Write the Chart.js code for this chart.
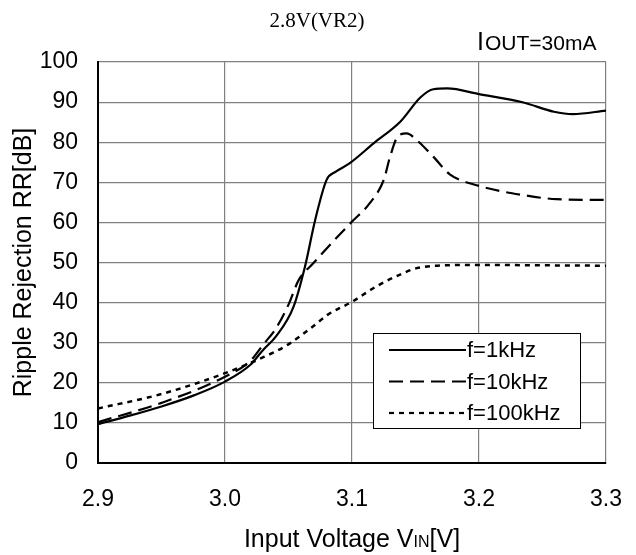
<!DOCTYPE html>
<html>
<head>
<meta charset="utf-8">
<script src="https://cdn.jsdelivr.net/npm/chart.js@4/dist/chart.umd.min.js"></script>
<style>
    html, body { margin: 0; padding: 0; background: #ffffff; }
    #wrap { width: 636px; height: 555px; }
</style>
</head>
<body>
<div id="wrap"><canvas id="rr_chart" width="636" height="555"></canvas></div>
<script>
// values (VIN in V, RR in dB)
var vin_1k = [2.90, 2.925, 2.95, 2.975, 3.00, 3.02, 3.03, 3.04, 3.054, 3.063, 3.071, 3.080, 3.087, 3.098, 3.117, 3.138, 3.154, 3.164, 3.175, 3.20, 3.235, 3.259, 3.274, 3.30];
var rr_1k = [9.7, 11.8, 14.1, 16.8, 20.3, 24.5, 28.2, 31.5, 39.0, 49.0, 60.6, 70.6, 72.6, 74.7, 79.7, 85.1, 91.2, 93.2, 93.4, 92.0, 89.9, 87.6, 87.0, 87.9];

var vin_10k = [2.90, 2.95, 3.00, 3.02, 3.03, 3.04, 3.05, 3.058, 3.0695, 3.085, 3.10, 3.114, 3.125, 3.130, 3.136, 3.143, 3.151, 3.164, 3.177, 3.20, 3.235, 3.261, 3.30];
var rr_10k = [10.2, 15.0, 21.5, 25.5, 29.5, 33.5, 39.5, 45.6, 49.8, 55.2, 60.2, 64.8, 70.6, 76.4, 81.4, 82.2, 80.5, 76.4, 72.0, 69.1, 66.8, 65.8, 65.6];

var vin_100k = [2.90, 2.95, 3.00, 3.031, 3.049, 3.069, 3.081, 3.10, 3.119, 3.14, 3.151, 3.167, 3.20, 3.25, 3.30];
var rr_100k = [13.6, 17.2, 22.4, 26.5, 29.4, 34.0, 37.0, 40.2, 44.0, 47.3, 48.6, 49.2, 49.4, 49.3, 49.2];

var series_names = ['f=1kHz', 'f=10kHz', 'f=100kHz'];
var x_ticks = [2.9, 3.0, 3.1, 3.2, 3.3];
var y_ticks = [0, 10, 20, 30, 40, 50, 60, 70, 80, 90, 100];

function toPoints(xs, ys) {
    return xs.map((x, i) => ({ x: x, y: ys[i] }));
}

var dashes = [[], [14, 7], [5, 5]];

// titles, axis names and the boxed legend inside the plot
var textPlugin = {
    id: 'texts',
    afterDraw(chart) {
        var ctx = chart.ctx;
        var area = chart.chartArea;
        ctx.save();
        ctx.fillStyle = '#000';

        ctx.font = '21px "Liberation Serif"';
        ctx.textAlign = 'center';
        ctx.textBaseline = 'alphabetic';
        ctx.fillText('2.8V(VR2)', 317, 27);

        ctx.textAlign = 'left';
        ctx.font = '25px "Liberation Sans"';
        ctx.fillText('I', 477, 50);
        var w = ctx.measureText('I').width;
        ctx.font = '21px "Liberation Sans"';
        ctx.fillText('OUT=30mA', 477 + w + 1, 50);

        // x axis name with subscript
        var big = '25px "Liberation Sans"', small = '16px "Liberation Sans"';
        ctx.font = big;
        var w1 = ctx.measureText('Input Voltage V').width;
        var w3 = ctx.measureText('[V]').width;
        ctx.font = small;
        var w2 = ctx.measureText('IN').width;
        var x0 = 352 - (w1 + w2 + w3) / 2;
        ctx.font = big;
        ctx.fillText('Input Voltage V', x0, 547);
        ctx.font = small;
        ctx.fillText('IN', x0 + w1, 547);
        ctx.font = big;
        ctx.fillText('[V]', x0 + w1 + w2, 547);

        // y axis name
        ctx.save();
        ctx.translate(31, (area.top + area.bottom) / 2);
        ctx.rotate(-Math.PI / 2);
        ctx.textAlign = 'center';
        ctx.font = '25px "Liberation Sans"';
        ctx.fillText('Ripple Rejection RR[dB]', 0, 0);
        ctx.restore();

        // legend box
        ctx.fillStyle = '#fff';
        ctx.fillRect(373, 333, 208, 96);
        ctx.strokeStyle = '#000';
        ctx.lineWidth = 1;
        ctx.strokeRect(373.5, 333.5, 207, 95);
        var rows = [350, 381.5, 413];
        ctx.font = '22px "Liberation Sans"';
        ctx.textBaseline = 'middle';
        ctx.textAlign = 'left';
        for (var i = 0; i < 3; i++) {
            ctx.beginPath();
            ctx.setLineDash(dashes[i]);
            ctx.lineWidth = 2.2;
            ctx.moveTo(389, rows[i]);
            ctx.lineTo(466, rows[i]);
            ctx.stroke();
            ctx.setLineDash([]);
            ctx.fillStyle = '#000';
            ctx.fillText(series_names[i], 467, rows[i] + 1);
        }
        ctx.restore();
    }
};

var rr = {
    type: 'line',
    data: {
        datasets: [
            { label: series_names[0], data: toPoints(vin_1k, rr_1k), borderDash: dashes[0] },
            { label: series_names[1], data: toPoints(vin_10k, rr_10k), borderDash: dashes[1] },
            { label: series_names[2], data: toPoints(vin_100k, rr_100k), borderDash: dashes[2], borderWidth: 2.5 }
        ]
    },
    options: {
        responsive: false,
        animation: false,
        layout: { padding: { top: 62, right: 30, left: 0, bottom: 0 } },
        elements: {
            line: { borderColor: '#000', borderWidth: 2.2, cubicInterpolationMode: 'monotone', fill: false },
            point: { radius: 0 }
        },
        plugins: {
            legend: { display: false },
            title: { display: false },
            tooltip: { enabled: false }
        },
        scales: {
            x: {
                type: 'linear',
                min: 2.9,
                max: 3.3,
                afterBuildTicks: (s) => { s.ticks = x_ticks.map(v => ({ value: v })); },
                afterFit: (s) => { s.height = 92; s.paddingLeft = 0; s.paddingRight = 0; },
                ticks: {
                    color: '#000',
                    font: { family: '"Liberation Sans"', size: 23 },
                    padding: 23,
                    maxRotation: 0,
                    callback: (v) => v.toFixed(1)
                },
                grid: { color: '#808080', lineWidth: 1.2, drawTicks: false },
                border: { color: '#000', width: 2 }
            },
            y: {
                min: 0,
                max: 100,
                afterBuildTicks: (s) => { s.ticks = y_ticks.map(v => ({ value: v })); },
                afterFit: (s) => { s.width = 98; s.paddingTop = 0; s.paddingBottom = 0; },
                ticks: {
                    color: '#000',
                    font: { family: '"Liberation Sans"', size: 23 },
                    padding: 20
                },
                grid: { color: '#808080', lineWidth: 1.2, drawTicks: false },
                border: { color: '#000', width: 2 }
            }
        }
    },
    plugins: [textPlugin]
};

function plotRR() {
    var ctx = document.getElementById('rr_chart').getContext('2d');
    window.rr_chart = new Chart(ctx, rr);
}

plotRR();
</script>
</body>
</html>
